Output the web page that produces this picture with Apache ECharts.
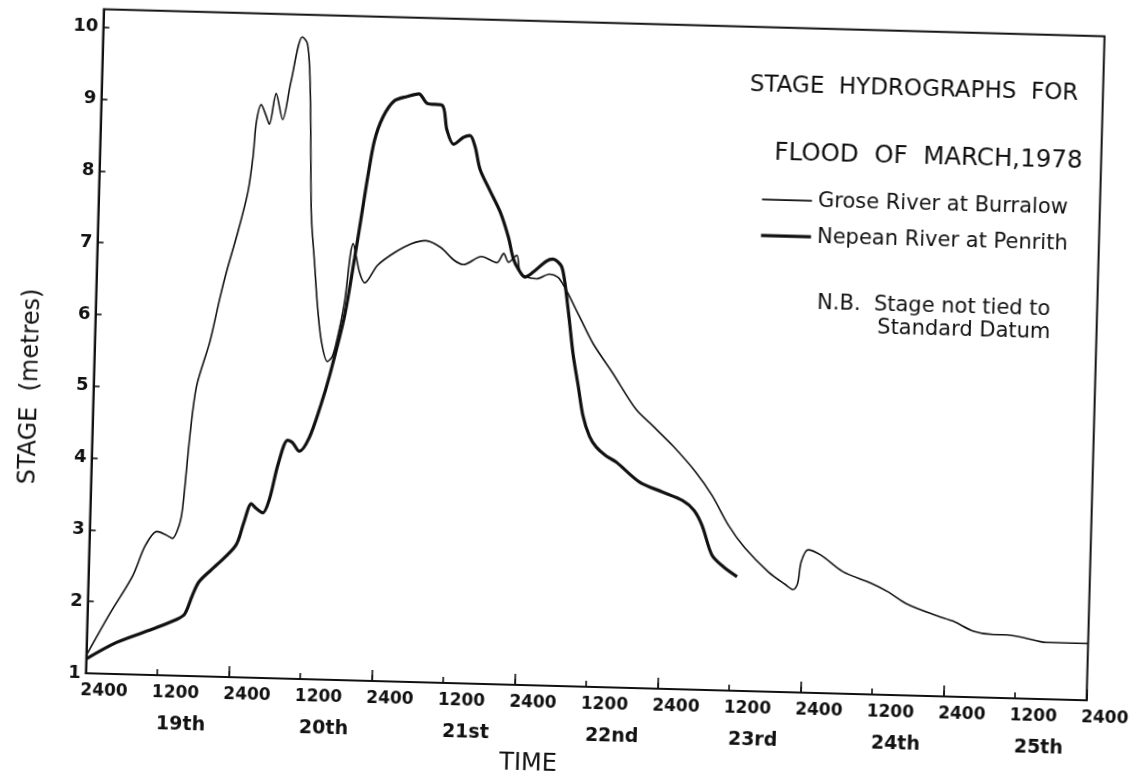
<!DOCTYPE html>
<html>
<head>
<meta charset="utf-8">
<script src="https://cdn.jsdelivr.net/npm/echarts@6/dist/echarts.min.js"></script>
<style>
html,body{margin:0;padding:0;background:#fff;overflow:hidden;width:1141px;height:783px;}
#chart{position:absolute;left:0;top:0;width:1141px;height:783px;transform:rotate(1.55deg);transform-origin:599px 356.6px;}
</style>
</head>
<body>
<div id="chart"></div>
<script>
// Time in hours from 2400 on the 18th; stage in metres
const timeTickLabels = ['2400', '1200'];
const dayLabels = ['19th', '20th', '21st', '22nd', '23rd', '24th', '25th'];
const stageTicks = [1, 2, 3, 4, 5, 6, 7, 8, 9, 10];

const groseBurralow = [
  [0,1.25],[3.7,1.83],[7.4,2.37],[9.4,2.8],[11.3,3.0],[12.7,2.96],[13.9,2.91],[15.0,3.1],[15.5,3.35],
  [16.4,4.37],[17.3,5.05],[19.3,5.66],[20.8,6.28],[21.8,6.65],[23.5,7.2],[25.0,7.76],[25.7,8.25],
  [26.1,8.73],[26.85,8.98],[27.7,8.83],[28.3,8.71],[29.3,9.14],[30.5,8.78],[31.7,9.3],[33.45,9.94],
  [34.3,9.85],[34.8,9.5],[35.2,8.8],[35.5,8.0],[35.8,7.4],[36.5,6.8],[37.2,6.19],[38.0,5.71],
  [39.1,5.43],[39.9,5.5],[40.7,5.77],[41.7,6.25],[42.9,7.08],[44.1,6.68],[45.0,6.54],[47.1,6.79],
  [49.85,6.97],[52.6,7.1],[55.05,7.15],[57.6,7.06],[59.85,6.89],[61.5,6.83],[64.5,6.95],[67.1,6.87],
  [68.2,7.0],[69.05,6.88],[70.4,6.98],[71.0,6.75],[72.15,6.68],[73.8,6.66],[76.0,6.73],[77.4,6.69],
  [78.3,6.59],[79.15,6.47],[81.2,6.15],[83.6,5.78],[87.0,5.38],[91.1,4.88],[93.95,4.66],[97.4,4.39],
  [101.4,4.03],[104.25,3.71],[107.15,3.3],[110.0,2.99],[114.0,2.67],[116.9,2.5],[118.3,2.43],
  [119.0,2.52],[119.5,2.82],[120.6,2.99],[122.8,2.92],[126.5,2.7],[131.3,2.55],[134.1,2.44],
  [137.5,2.27],[142.5,2.12],[145.3,2.05],[148.7,1.92],[152.1,1.88],[154.3,1.88],[157.1,1.85],
  [161,1.79],[168,1.79]
];

const nepeanPenrith = [
  [0,1.2],[5.0,1.44],[11.0,1.64],[14.9,1.78],[16.3,1.86],[17.5,2.12],[18.6,2.32],[21.5,2.56],
  [24.6,2.84],[25.8,3.15],[27.0,3.42],[27.8,3.36],[28.95,3.3],[30.0,3.49],[31.3,3.98],[32.8,4.32],
  [33.6,4.29],[34.8,4.17],[36.4,4.36],[38.2,4.82],[39.5,5.22],[41.8,6.08],[43.2,6.88],[44.1,7.43],
  [45.05,8.02],[46.0,8.52],[47.3,8.85],[49.1,9.08],[51.3,9.15],[53.25,9.19],[54.7,9.06],[57.2,9.04],
  [58.1,8.7],[59.3,8.5],[60.9,8.6],[62.0,8.63],[62.9,8.48],[63.85,8.16],[65.6,7.87],[67.4,7.58],
  [68.9,7.23],[69.8,6.94],[70.7,6.79],[71.85,6.68],[73.2,6.75],[75.4,6.91],[76.5,6.94],[77.9,6.85],
  [78.5,6.66],[78.9,6.45],[79.5,6.1],[80.3,5.62],[81.3,5.18],[82.2,4.78],[83.4,4.49],[84.6,4.34],
  [86.3,4.22],[88.0,4.14],[92.0,3.87],[95.9,3.74],[99.3,3.63],[101.25,3.5],[102.7,3.29],[104.5,2.88],
  [106.5,2.72],[108.8,2.59]
];

const FONT = 'DejaVu Sans';
const ink = '#111';

const chart = echarts.init(document.getElementById('chart'), null, { renderer: 'canvas' });

const option = {
  backgroundColor: '#fff',
  animation: false,
  title: [
    {
      text: 'STAGE  HYDROGRAPHS  FOR',
      right: 70, top: 67, padding: 0,
      textStyle: { fontFamily: FONT, fontSize: 23, fontWeight: 'normal', color: ink, lineHeight: 28 }
    },
    {
      text: 'FLOOD  OF  MARCH,1978',
      right: 64, top: 135, padding: 0,
      textStyle: { fontFamily: FONT, fontSize: 24.5, fontWeight: 'normal', color: ink, lineHeight: 28 }
    }
  ],
  legend: {
    orient: 'vertical', left: 756, top: 184.6, padding: 0,
    itemWidth: 50, itemHeight: 16, itemGap: 15,
    itemStyle: { opacity: 0 },
    textStyle: { fontFamily: FONT, fontSize: 21, color: ink, padding: [3, 0, 0, 1] },
    data: [
      { name: 'Grose River at Burralow', lineStyle: { color: ink, width: 1.6 } },
      { name: 'Nepean River at Penrith', lineStyle: { color: ink, width: 3.4 } }
    ]
  },
  grid: {
    left: 94.6, right: 37.6, top: 22.7, bottom: 92.5,
    show: true, borderColor: ink, borderWidth: 2, backgroundColor: 'transparent'
  },
  xAxis: [
    {
      type: 'value', min: 0, max: 168, interval: 12, position: 'bottom',
      axisLine: { show: true, onZero: false, lineStyle: { color: ink, width: 2 } },
      axisTick: { show: true, inside: true, length: 6, lineStyle: { color: ink, width: 1.6 } },
      axisLabel: {
        formatter: v => (v % 24 === 0 ? timeTickLabels[0] : timeTickLabels[1]),
        align: 'left', margin: 9, padding: [0, 0, 0, -5],
        fontFamily: FONT, fontSize: 17, fontWeight: 'bold', color: ink
      },
      splitLine: { show: false },
      name: 'TIME', nameLocation: 'middle', nameGap: 67,
      nameTextStyle: { fontFamily: FONT, fontSize: 24, color: ink, padding: [0, 112, 0, 0] }
    },
    {
      type: 'value', min: 0, max: 168, interval: 24, position: 'bottom',
      axisLine: { show: false },
      axisTick: { show: true, inside: true, length: 11, lineStyle: { color: ink, width: 1.6 } },
      axisLabel: { show: false },
      splitLine: { show: false }
    },
    {
      type: 'value', min: 0, max: 168, interval: 12, position: 'bottom',
      axisLine: { show: false },
      axisTick: { show: false },
      axisLabel: {
        formatter: v => (v % 24 === 12 ? dayLabels[(v - 12) / 24] : ''),
        align: 'left', margin: 40,
        fontFamily: FONT, fontSize: 19, fontWeight: 'bold', color: ink
      },
      splitLine: { show: false }
    }
  ],
  yAxis: {
    type: 'value', min: 1, max: 10.25, interval: 1,
    axisLine: { show: true, lineStyle: { color: ink, width: 2 } },
    axisTick: { show: true, inside: true, length: 6, lineStyle: { color: ink, width: 1.6 } },
    axisLabel: {
      margin: 5, showMaxLabel: false,
      formatter: v => (stageTicks.indexOf(v) >= 0 ? String(v) : ''),
      fontFamily: FONT, fontSize: 18, fontWeight: 'bold', color: ink
    },
    splitLine: { show: false },
    name: 'STAGE  (metres)', nameLocation: 'middle', nameGap: 51,
    nameTextStyle: { fontFamily: FONT, fontSize: 24, color: ink, padding: [0, 94, 0, 0] }
  },
  graphic: [
    { type: 'text', left: 815.6, top: 287.5, style: { text: 'N.B.  Stage not tied to', font: '21px "DejaVu Sans"', fill: ink } },
    { type: 'text', left: 876.3, top: 310, style: { text: 'Standard Datum', font: '21px "DejaVu Sans"', fill: ink } }
  ],
  series: [
    {
      name: 'Grose River at Burralow', type: 'line', data: groseBurralow,
      smooth: 0.3, symbol: 'none', z: 3,
      lineStyle: { color: ink, width: 1.6 }, itemStyle: { color: ink }
    },
    {
      name: 'Nepean River at Penrith', type: 'line', data: nepeanPenrith,
      smooth: 0.3, symbol: 'none', z: 2,
      lineStyle: { color: ink, width: 3.2 }, itemStyle: { color: ink }
    }
  ]
};
chart.setOption(option);
</script>
</body>
</html>
